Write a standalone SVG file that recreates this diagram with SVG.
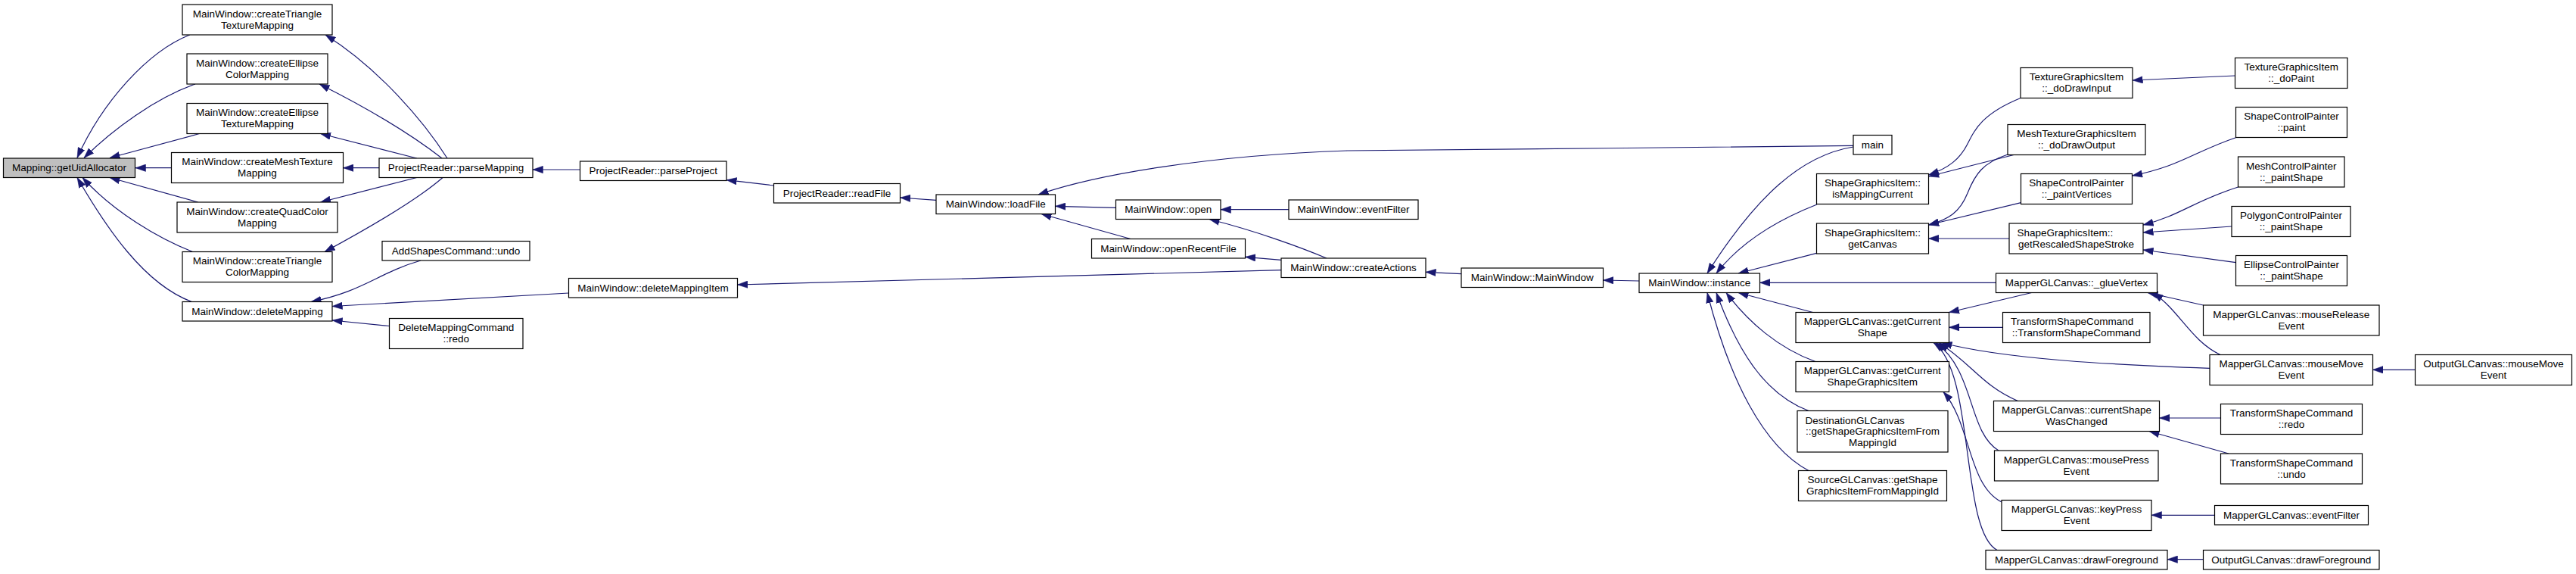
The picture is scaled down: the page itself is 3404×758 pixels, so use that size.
<svg xmlns="http://www.w3.org/2000/svg" width="3404" height="758" viewBox="0 0 3404 758">
<style>
.node rect{fill:#fff;stroke:#000;stroke-width:1.2}
.root rect{fill:#bfbfbf}
text{font-family:"Liberation Sans",Arial,sans-serif;font-size:13.5px;fill:#000}
.c{text-anchor:middle}
.edges path{fill:none;stroke:#191970;stroke-width:1.2}
</style>
<defs>
<marker id="ah" markerUnits="userSpaceOnUse" viewBox="0 0 14 10" markerWidth="14" markerHeight="10" refX="13.5" refY="5" orient="auto">
<path d="M0,0.3 L13.5,5 L0,9.7 z" fill="#191970" stroke="#191970" stroke-width="0.5"/>
</marker>
</defs>
<rect width="3404" height="758" fill="#fff"/>
<g class="edges" marker-end="url(#ah)">
<path marker-end="url(#ah)" d="M250.8,46 C195,68 135,135 102,208.5"/>
<path marker-end="url(#ah)" d="M258,111 C205,130 150,170 111,208.5"/>
<path marker-end="url(#ah)" d="M263.5,176.5 L145,208.5"/>
<path marker-end="url(#ah)" d="M226.5,221.7 L179,221.7"/>
<path marker-end="url(#ah)" d="M261.7,267 L145,234.5"/>
<path marker-end="url(#ah)" d="M254.5,332.5 C210,315 150,280 109,234.5"/>
<path marker-end="url(#ah)" d="M253.4,398.5 C190,375 140,300 102,234.5"/>
<path marker-end="url(#ah)" d="M591,209 C560,160 500,90 430,46"/>
<path marker-end="url(#ah)" d="M584,209 C540,175 480,140 422,111"/>
<path marker-end="url(#ah)" d="M550.7,209 L423.5,176.5"/>
<path marker-end="url(#ah)" d="M501,221.7 L453.5,221.7"/>
<path marker-end="url(#ah)" d="M550.7,234.5 L423.5,267"/>
<path marker-end="url(#ah)" d="M585,234.5 C550,265 480,305 429,332.5"/>
<path marker-end="url(#ah)" d="M556,344 C500,360 480,385 411,398.5"/>
<path marker-end="url(#ah)" d="M751.5,387 L439,404.5"/>
<path marker-end="url(#ah)" d="M514.5,430.5 L439,423"/>
<path marker-end="url(#ah)" d="M766.5,224 L704,224"/>
<path marker-end="url(#ah)" d="M1022.5,245 L960,237.7"/>
<path marker-end="url(#ah)" d="M1237,264.3 L1189.5,261"/>
<path marker-end="url(#ah)" d="M1474.5,274.3 L1394.5,272.3"/>
<path marker-end="url(#ah)" d="M1494,315.5 L1376,282.5"/>
<path marker-end="url(#ah)" d="M2449,192.3 C2300,195 1900,197 1780,199 C1600,205 1450,230 1372,257"/>
<path marker-end="url(#ah)" d="M1703,276.7 L1613,276.7"/>
<path marker-end="url(#ah)" d="M1753,341 C1720,327 1660,305 1598,289.5"/>
<path marker-end="url(#ah)" d="M1693,343.3 L1645.5,339.3"/>
<path marker-end="url(#ah)" d="M1693,356.7 Q1300,368 974.5,376"/>
<path marker-end="url(#ah)" d="M1931,361.7 L1884,359.3"/>
<path marker-end="url(#ah)" d="M2166,371 L2118.5,370"/>
<path marker-end="url(#ah)" d="M2449,194 C2380,205 2320,260 2256,361"/>
<path marker-end="url(#ah)" d="M2401,270 C2350,290 2300,320 2268,361"/>
<path marker-end="url(#ah)" d="M2400.5,334.3 L2297,361"/>
<path marker-end="url(#ah)" d="M2637.5,373.3 L2325.5,373.3"/>
<path marker-end="url(#ah)" d="M2395.6,412.5 L2297,386.5"/>
<path marker-end="url(#ah)" d="M2399,477.5 C2350,460 2310,425 2281,386.5"/>
<path marker-end="url(#ah)" d="M2390,542.5 C2330,520 2295,460 2268,386.5"/>
<path marker-end="url(#ah)" d="M2390,621.5 C2330,590 2285,500 2256,386.5"/>
<path marker-end="url(#ah)" d="M2670,129.5 C2620,150 2610,170 2600,190 C2590,210 2575,222 2548.5,231"/>
<path marker-end="url(#ah)" d="M2661,204.5 L2548.5,233"/>
<path marker-end="url(#ah)" d="M2653,204 C2620,215 2610,230 2600,255 C2590,280 2575,290 2548.5,297"/>
<path marker-end="url(#ah)" d="M2670.5,267.7 L2548.5,297"/>
<path marker-end="url(#ah)" d="M2655,315 L2548.5,315"/>
<path marker-end="url(#ah)" d="M2953.5,100 L2818,106"/>
<path marker-end="url(#ah)" d="M2954.5,181.7 C2900,200 2880,220 2817.5,232"/>
<path marker-end="url(#ah)" d="M2957.5,247 C2900,265 2880,285 2832,297"/>
<path marker-end="url(#ah)" d="M2949,299 L2832,307"/>
<path marker-end="url(#ah)" d="M2954.5,346.7 L2832,330"/>
<path marker-end="url(#ah)" d="M2684.6,386.5 L2575.5,412.5"/>
<path marker-end="url(#ah)" d="M2646.5,432.3 L2575.5,432.3"/>
<path marker-end="url(#ah)" d="M2920,486.3 C2800,482 2650,475 2566,452.5"/>
<path marker-end="url(#ah)" d="M2666.4,529.5 C2620,510 2605,480 2562,452.5"/>
<path marker-end="url(#ah)" d="M2641,595 C2600,570 2610,490 2558,452.5"/>
<path marker-end="url(#ah)" d="M2639,726.5 C2590,700 2610,490 2555,452.5"/>
<path marker-end="url(#ah)" d="M2645,663 C2600,640 2605,560 2568,517.5"/>
<path marker-end="url(#ah)" d="M2911.5,403 L2838,386.5"/>
<path marker-end="url(#ah)" d="M2934,468.5 C2895,450 2880,410 2845,386.5"/>
<path marker-end="url(#ah)" d="M3191.5,488.3 L3135.5,488.3"/>
<path marker-end="url(#ah)" d="M2934.5,552 L2853.5,552"/>
<path marker-end="url(#ah)" d="M2945,599 L2840,569.5"/>
<path marker-end="url(#ah)" d="M2926.5,680.3 L2843,680.3"/>
<path marker-end="url(#ah)" d="M2911.5,738.7 L2864,738.7"/>
</g>
<g id="n0" class="node root"><rect x="4.5" y="209" width="174" height="25.5"/><text class="c" x="91.5" y="226">Mapping::getUidAllocator</text></g>
<g id="n1" class="node"><rect x="241" y="6" width="198" height="40"/><text class="c" x="340" y="22.5">MainWindow::createTriangle</text><text class="c" x="340" y="37.5">TextureMapping</text></g>
<g id="n2" class="node"><rect x="247" y="71" width="186" height="40"/><text class="c" x="340" y="87.5">MainWindow::createEllipse</text><text class="c" x="340" y="102.5">ColorMapping</text></g>
<g id="n3" class="node"><rect x="247" y="136.5" width="186" height="40"/><text class="c" x="340" y="153">MainWindow::createEllipse</text><text class="c" x="340" y="168">TextureMapping</text></g>
<g id="n4" class="node"><rect x="226.5" y="201.5" width="227" height="40"/><text class="c" x="340" y="218">MainWindow::createMeshTexture</text><text class="c" x="340" y="233">Mapping</text></g>
<g id="n5" class="node"><rect x="234" y="267" width="212" height="40"/><text class="c" x="340" y="283.5">MainWindow::createQuadColor</text><text class="c" x="340" y="298.5">Mapping</text></g>
<g id="n6" class="node"><rect x="241" y="332.5" width="198" height="40"/><text class="c" x="340" y="349">MainWindow::createTriangle</text><text class="c" x="340" y="364">ColorMapping</text></g>
<g id="n7" class="node"><rect x="241" y="398.5" width="198" height="25.5"/><text class="c" x="340" y="415.5">MainWindow::deleteMapping</text></g>
<g id="n8" class="node"><rect x="501" y="209" width="203" height="25.5"/><text class="c" x="602.5" y="226">ProjectReader::parseMapping</text></g>
<g id="n9" class="node"><rect x="505" y="318.5" width="195" height="25.5"/><text class="c" x="602.5" y="335.5">AddShapesCommand::undo</text></g>
<g id="n10" class="node"><rect x="514.5" y="420.5" width="176.5" height="40"/><text class="c" x="602.75" y="437">DeleteMappingCommand</text><text class="c" x="602.75" y="452">::redo</text></g>
<g id="n11" class="node"><rect x="766.5" y="213" width="193.5" height="25.5"/><text class="c" x="863.25" y="230">ProjectReader::parseProject</text></g>
<g id="n12" class="node"><rect x="1022.5" y="242.5" width="167" height="25.5"/><text class="c" x="1106" y="259.5">ProjectReader::readFile</text></g>
<g id="n13" class="node"><rect x="751.5" y="367.5" width="223" height="25.5"/><text class="c" x="863" y="384.5">MainWindow::deleteMappingItem</text></g>
<g id="n14" class="node"><rect x="1237" y="257" width="157.5" height="25.5"/><text class="c" x="1315.75" y="274">MainWindow::loadFile</text></g>
<g id="n15" class="node"><rect x="1474.5" y="264" width="138.5" height="25.5"/><text class="c" x="1543.75" y="281">MainWindow::open</text></g>
<g id="n16" class="node"><rect x="1442.5" y="315.5" width="203" height="25.5"/><text class="c" x="1544" y="332.5">MainWindow::openRecentFile</text></g>
<g id="n17" class="node"><rect x="1703" y="264" width="171" height="25.5"/><text class="c" x="1788.5" y="281">MainWindow::eventFilter</text></g>
<g id="n18" class="node"><rect x="1693" y="341" width="191" height="25.5"/><text class="c" x="1788.5" y="358">MainWindow::createActions</text></g>
<g id="n19" class="node"><rect x="1931" y="354" width="187.5" height="25.5"/><text class="c" x="2024.75" y="371">MainWindow::MainWindow</text></g>
<g id="n20" class="node"><rect x="2166" y="361" width="159.5" height="25.5"/><text class="c" x="2245.75" y="378">MainWindow::instance</text></g>
<g id="n21" class="node"><rect x="2449" y="178.5" width="51" height="25.5"/><text class="c" x="2474.5" y="195.5">main</text></g>
<g id="n22" class="node"><rect x="2670" y="89.5" width="148" height="40"/><text class="c" x="2744" y="106">TextureGraphicsItem</text><text class="c" x="2744" y="121">::_doDrawInput</text></g>
<g id="n23" class="node"><rect x="2653" y="164.5" width="182" height="40"/><text class="c" x="2744" y="181">MeshTextureGraphicsItem</text><text class="c" x="2744" y="196">::_doDrawOutput</text></g>
<g id="n24" class="node"><rect x="2400.5" y="229.5" width="148" height="40"/><text class="c" x="2474.5" y="246">ShapeGraphicsItem::</text><text class="c" x="2474.5" y="261">isMappingCurrent</text></g>
<g id="n25" class="node"><rect x="2670.5" y="229.5" width="147" height="40"/><text class="c" x="2744" y="246">ShapeControlPainter</text><text class="c" x="2744" y="261">::_paintVertices</text></g>
<g id="n26" class="node"><rect x="2400.5" y="295" width="148" height="40"/><text class="c" x="2474.5" y="311.5">ShapeGraphicsItem::</text><text class="c" x="2474.5" y="326.5">getCanvas</text></g>
<g id="n27" class="node"><rect x="2655" y="295" width="177" height="40"/><text x="2665.5" y="311.5">ShapeGraphicsItem::</text><text class="c" x="2743.5" y="326.5">getRescaledShapeStroke</text></g>
<g id="n28" class="node"><rect x="2637.5" y="361" width="213" height="25.5"/><text class="c" x="2744" y="378">MapperGLCanvas::_glueVertex</text></g>
<g id="n29" class="node"><rect x="2953.5" y="76.5" width="148.5" height="40"/><text class="c" x="3027.75" y="93">TextureGraphicsItem</text><text class="c" x="3027.75" y="108">::_doPaint</text></g>
<g id="n30" class="node"><rect x="2954.5" y="141.5" width="147" height="40"/><text class="c" x="3028" y="158">ShapeControlPainter</text><text class="c" x="3028" y="173">::paint</text></g>
<g id="n31" class="node"><rect x="2957.5" y="207" width="140.5" height="40"/><text class="c" x="3027.75" y="223.5">MeshControlPainter</text><text class="c" x="3027.75" y="238.5">::_paintShape</text></g>
<g id="n32" class="node"><rect x="2949" y="272.5" width="157" height="40"/><text class="c" x="3027.5" y="289">PolygonControlPainter</text><text class="c" x="3027.5" y="304">::_paintShape</text></g>
<g id="n33" class="node"><rect x="2954.5" y="337.5" width="147" height="40"/><text class="c" x="3028" y="354">EllipseControlPainter</text><text class="c" x="3028" y="369">::_paintShape</text></g>
<g id="n34" class="node"><rect x="2373" y="412.5" width="202.5" height="40"/><text class="c" x="2474.25" y="429">MapperGLCanvas::getCurrent</text><text class="c" x="2474.25" y="444">Shape</text></g>
<g id="n35" class="node"><rect x="2646.5" y="412.5" width="194.5" height="40"/><text x="2657" y="429">TransformShapeCommand</text><text class="c" x="2743.75" y="444">::TransformShapeCommand</text></g>
<g id="n36" class="node"><rect x="2373" y="477.5" width="202.5" height="40"/><text class="c" x="2474.25" y="494">MapperGLCanvas::getCurrent</text><text class="c" x="2474.25" y="509">ShapeGraphicsItem</text></g>
<g id="n37" class="node"><rect x="2634.5" y="529.5" width="219" height="40"/><text class="c" x="2744" y="546">MapperGLCanvas::currentShape</text><text class="c" x="2744" y="561">WasChanged</text></g>
<g id="n38" class="node"><rect x="2375" y="542.5" width="199" height="54.5"/><text x="2385.5" y="559.5">DestinationGLCanvas</text><text class="c" x="2474.5" y="574">::getShapeGraphicsItemFrom</text><text class="c" x="2474.5" y="588.5">MappingId</text></g>
<g id="n39" class="node"><rect x="2635.5" y="595" width="216.5" height="40"/><text class="c" x="2743.75" y="611.5">MapperGLCanvas::mousePress</text><text class="c" x="2743.75" y="626.5">Event</text></g>
<g id="n40" class="node"><rect x="2376.5" y="621.5" width="196" height="40"/><text class="c" x="2474.5" y="638">SourceGLCanvas::getShape</text><text class="c" x="2474.5" y="653">GraphicsItemFromMappingId</text></g>
<g id="n41" class="node"><rect x="2645" y="660.5" width="198" height="40"/><text class="c" x="2744" y="677">MapperGLCanvas::keyPress</text><text class="c" x="2744" y="692">Event</text></g>
<g id="n42" class="node"><rect x="2624" y="726.5" width="240" height="25.5"/><text class="c" x="2744" y="743.5">MapperGLCanvas::drawForeground</text></g>
<g id="n43" class="node"><rect x="2911.5" y="403" width="232.5" height="40"/><text class="c" x="3027.75" y="419.5">MapperGLCanvas::mouseRelease</text><text class="c" x="3027.75" y="434.5">Event</text></g>
<g id="n44" class="node"><rect x="2920" y="468.5" width="215.5" height="40"/><text class="c" x="3027.75" y="485">MapperGLCanvas::mouseMove</text><text class="c" x="3027.75" y="500">Event</text></g>
<g id="n45" class="node"><rect x="3191.5" y="468.5" width="207" height="40"/><text class="c" x="3295" y="485">OutputGLCanvas::mouseMove</text><text class="c" x="3295" y="500">Event</text></g>
<g id="n46" class="node"><rect x="2934.5" y="533.5" width="187" height="40"/><text class="c" x="3028" y="550">TransformShapeCommand</text><text class="c" x="3028" y="565">::redo</text></g>
<g id="n47" class="node"><rect x="2934.5" y="599" width="187" height="40"/><text class="c" x="3028" y="615.5">TransformShapeCommand</text><text class="c" x="3028" y="630.5">::undo</text></g>
<g id="n48" class="node"><rect x="2926.5" y="667.5" width="203" height="25.5"/><text class="c" x="3028" y="684.5">MapperGLCanvas::eventFilter</text></g>
<g id="n49" class="node"><rect x="2911.5" y="726.5" width="232.5" height="25.5"/><text class="c" x="3027.75" y="743.5">OutputGLCanvas::drawForeground</text></g>
</svg>
